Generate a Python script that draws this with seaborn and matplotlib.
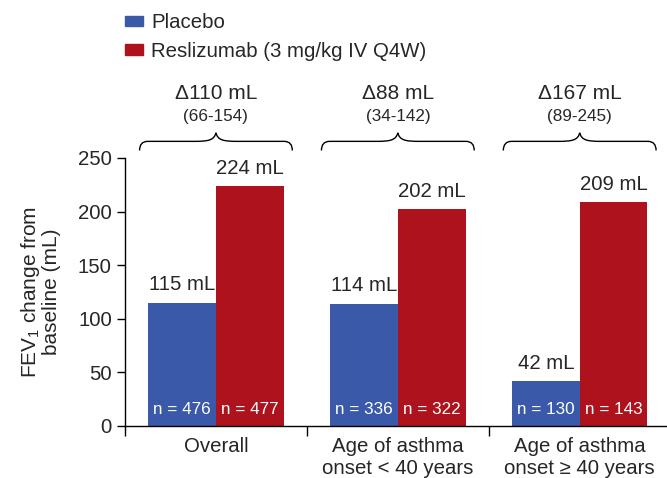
import pandas as pd
import matplotlib.pyplot as plt
import seaborn as sns
from matplotlib.path import Path
from matplotlib.patches import PathPatch, Patch

groups = ['Overall', 'Age of asthma\nonset < 40 years', 'Age of asthma\nonset \u2265 40 years']
treatments = ['Placebo', 'Reslizumab (3 mg/kg IV Q4W)']
placebo = [115, 114, 42]
reslizumab = [224, 202, 209]
n_placebo = [476, 336, 130]
n_reslizumab = [477, 322, 143]
deltas = ['\u0394110 mL', '\u039488 mL', '\u0394167 mL']
ci = ['(66-154)', '(34-142)', '(89-245)']
y_ticks = [0, 50, 100, 150, 200, 250]

colors = {'Placebo': '#3A59A8', 'Reslizumab (3 mg/kg IV Q4W)': '#AE131D'}

df = pd.DataFrame({
    'group': groups * 2,
    'treatment': [treatments[0]] * 3 + [treatments[1]] * 3,
    'value': placebo + reslizumab,
    'n': n_placebo + n_reslizumab,
})

sns.set_style('white')
plt.rcParams['font.family'] = ['Liberation Sans', 'DejaVu Sans']
plt.rcParams['mathtext.fontset'] = 'custom'
plt.rcParams['mathtext.rm'] = 'Liberation Sans'

FS = 14.7
FS_SMALL = 12.3

fig = plt.figure(figsize=(6.67, 4.78), dpi=100)
ax = fig.add_axes([0.1874, 0.1088, 0.8126, 0.5607])

sns.barplot(data=df, x='group', y='value', hue='treatment', order=groups,
            hue_order=treatments, palette=colors, saturation=1, width=0.745,
            gap=0, errorbar=None, linewidth=0, ax=ax, legend=False)

ax.set_ylim(0, 250)
ax.set_xlim(-0.5, 2.48)
ax.set_yticks(y_ticks)
ax.tick_params(axis='y', labelsize=FS, length=6, width=1, pad=3.5, direction='out', left=True, color='black')
ax.set_xticks([0, 1, 2])
ax.set_xticklabels(groups, fontsize=FS)
ax.tick_params(axis='x', which='major', length=0, pad=8)
ax.set_xticks([-0.5, 0.5, 1.5], minor=True)
ax.tick_params(axis='x', which='minor', length=7, width=1, bottom=True, color='black')
ax.set_xlabel('')
ax.set_ylabel('FEV$_\\mathrm{1}$ change from\nbaseline (mL)', fontsize=15, labelpad=12,
              linespacing=1.05)
sns.despine(ax=ax)
for s in ['left', 'bottom']:
    ax.spines[s].set_color('black')
    ax.spines[s].set_linewidth(1)

# value labels and n labels
for cont, vals, ns in zip(ax.containers, [placebo, reslizumab], [n_placebo, n_reslizumab]):
    ax.bar_label(cont, labels=[f'{v} mL' for v in vals], padding=6, fontsize=FS)
    for bar, n in zip(cont, ns):
        ax.text(bar.get_x() + bar.get_width() / 2, 15, f'n = {n}', color='white',
                ha='center', va='center', fontsize=FS_SMALL)

# braces with differences
def brace(xc, half=0.42, yb=257, yh=265.5, yp=273.5):
    dx, w = 0.045, 0.12
    x0, x1 = xc - half, xc + half
    verts = [(x0, yb), (x0, yh), (x0 + dx, yh),
             (xc - w, yh),
             (xc - w * 0.35, yh), (xc - 0.01, yh + 1), (xc, yp),
             (xc + 0.01, yh + 1), (xc + w * 0.35, yh), (xc + w, yh),
             (x1 - dx, yh),
             (x1, yh), (x1, yb)]
    codes = [Path.MOVETO, Path.CURVE3, Path.CURVE3,
             Path.LINETO,
             Path.CURVE4, Path.CURVE4, Path.CURVE4,
             Path.CURVE4, Path.CURVE4, Path.CURVE4,
             Path.LINETO,
             Path.CURVE3, Path.CURVE3]
    ax.add_patch(PathPatch(Path(verts, codes), fill=False, lw=1, color='black', clip_on=False))

for i in range(len(groups)):
    brace(i)
    ax.text(i, 310.5, deltas[i], ha='center', va='center', fontsize=15)
    ax.text(i, 289, ci[i], ha='center', va='center', fontsize=FS_SMALL)

handles = [Patch(color=colors[t]) for t in treatments]
fig.legend(handles, treatments, loc='upper left', bbox_to_anchor=(0.1874, 0.972),
           frameon=False, fontsize=FS, handlelength=0.88, handleheight=0.42,
           handletextpad=0.4, labelspacing=0.45, borderpad=0, borderaxespad=0)

fig.savefig('out.png', dpi=100)
